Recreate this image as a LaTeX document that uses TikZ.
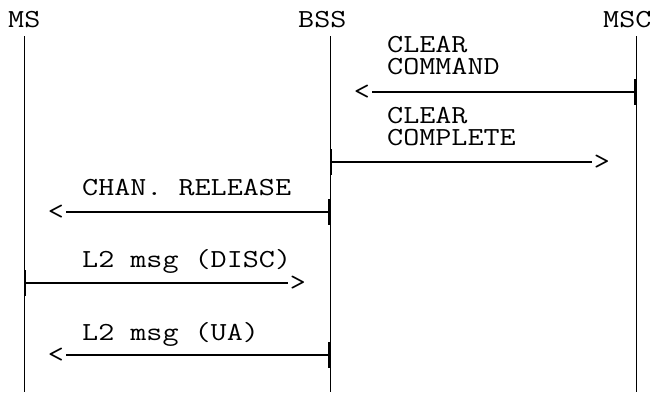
\documentclass[tikz,border=0pt]{standalone}
\usepackage{fontspec}
\setmonofont[FakeStretch=1.2]{Latin Modern Mono}
\usetikzlibrary{arrows.meta}

\begin{document}
\begin{tikzpicture}[x=1pt,y=-1pt]
\tikzstyle{txt}=[font=\fontsize{26}{24}\selectfont\ttfamily,inner sep=0pt,anchor=base west]
\tikzstyle{tip}=[font=\fontsize{26}{24}\selectfont\ttfamily,inner sep=1.5pt]
\tikzstyle{msg}=[line width=1.6pt,{Bar[width=26pt,line width=1.6pt]}-]
\useasboundingbox (0,0) rectangle (650,392);
% entities and lifelines
\foreach \name/\label/\tx/\x in {
	ms/MS/8/24,
	bss/BSS/298/330,
	msc/MSC/603/636}
{
	\node[txt] (\name) at (\tx,27) {\label};
	\coordinate (\name top) at (\x,36);
	\coordinate (\name bot) at (\x,392);
	\draw[line width=0.8pt] (\name top) -- (\name bot);
}
% message texts
\foreach \name/\label/\x/\y in {
	l1/CLEAR/387/52,
	l2/COMMAND/387/74,
	l3/CLEAR/387/123,
	l4/COMPLETE/387/145,
	l5/CHAN. RELEASE/82/195,
	l6/L2 msg (DISC)/82/267,
	l7/L2 msg (UA)/82/340}
	\node[txt] (\name) at (\x,\y) {\label};
% messages
\foreach \name/\from/\to/\y/\head in {
	m1/636/362/92/<,
	m2/330/602/162/>,
	m3/330/56/212/<,
	m4/24/298/283/>,
	m5/330/56/355/<}
{
	\coordinate (\name s) at (\from,\y);
	\node[tip] (\name t) at (\to,\y) {\head};
	\draw[msg] (\name s) -- (\name t);
}
\end{tikzpicture}
\end{document}
